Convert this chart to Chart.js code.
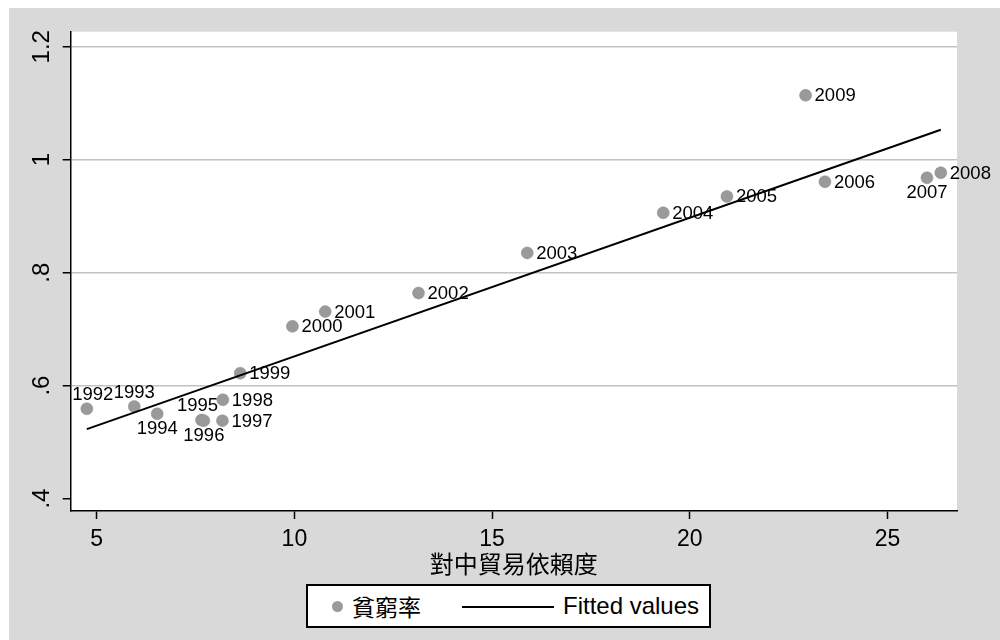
<!DOCTYPE html>
<html>
<head>
<meta charset="utf-8">
<script src="https://cdn.jsdelivr.net/npm/chart.js@4.4.0/dist/chart.umd.min.js"></script>
<style>
  html, body { margin: 0; padding: 0; background: #fff; }
  #wrap { position: relative; width: 1000px; height: 640px; overflow: hidden; }
  #chart { position: absolute; left: 0; top: 0; }
  #legend {
    position: absolute; left: 306px; top: 584px; width: 405px; height: 44px;
    box-sizing: border-box; border: 2px solid #000; background: #fff;
    font-family: 'Liberation Sans', Arial, sans-serif; color: #000;
  }
  .item { position: absolute; top: 0; height: 100%; display: flex; align-items: center; white-space: nowrap; }
  .dot { position: absolute; left: 24px; top: 15px; width: 11px; height: 11px; border-radius: 50%; background: #9a9a9a; }
  .bar { position: absolute; left: 154px; top: 20px; width: 92px; height: 2px; background: #000; }
</style>
</head>
<body>
<div id="wrap">
  <canvas id="chart" width="1000" height="640"></canvas>
  <div id="legend">
    <span class="dot"></span>
    <span class="item" style="left:44px; font-family:'Noto Sans CJK TC'; font-size:23px;">貧窮率</span>
    <span class="bar"></span>
    <span class="item" style="left:255px; font-size:24px;">Fitted values</span>
  </div>
</div>
<script>
// 資料
const years = ['1992', '1993', '1994', '1995', '1996', '1997', '1998', '1999', '2000',
               '2001', '2002', '2003', '2004', '2005', '2006', '2007', '2008', '2009']
const tradeDep = [4.75, 5.95, 6.53, 7.65, 7.71, 8.18, 8.19, 8.63, 9.95,
                  10.78, 13.14, 15.89, 19.33, 20.94, 23.42, 26.00, 26.35, 22.93]
const povertyRate = [0.559, 0.563, 0.550, 0.539, 0.538, 0.538, 0.575, 0.622, 0.705,
                     0.731, 0.764, 0.835, 0.906, 0.935, 0.961, 0.968, 0.977, 1.114]
const fitX = [4.75, 26.35]
const fitY = [0.523, 1.053]
const xTicks = [5, 10, 15, 20, 25]
const yTicks = [0.4, 0.6, 0.8, 1, 1.2]

// label placement (clock position) + small nudges
const labelPos = ['12', '12', '6', '12', '6', '3', '3', '3', '3',
                  '3', '3', '3', '3', '3', '3', '6', '3', '3']
const labelNudge = { '1992': 6, '1995': -4 }

const FONT = 'Liberation Sans'

function fmtY(v) {
    if (v === 1) return '1'
    return v.toFixed(1).replace(/^0/, '')
}

const backdrop = {
    id: 'backdrop',
    beforeDraw(chart) {
        const { ctx, chartArea: a } = chart
        ctx.save()
        ctx.fillStyle = '#fff'
        ctx.fillRect(0, 0, chart.width, chart.height)
        ctx.fillStyle = '#d9d9d9'
        ctx.fillRect(9, 8, chart.width - 9, chart.height - 8)
        ctx.fillStyle = '#fff'
        ctx.fillRect(a.left, a.top, a.right - a.left, a.bottom - a.top)
        ctx.restore()
    }
}

const yLabels = {
    id: 'yLabels',
    afterDraw(chart) {
        const { ctx } = chart
        const s = chart.scales.y
        ctx.save()
        ctx.font = '24px "' + FONT + '"'
        ctx.fillStyle = '#000'
        ctx.textAlign = 'center'
        ctx.textBaseline = 'alphabetic'
        yTicks.forEach(v => {
            const py = s.getPixelForValue(v)
            ctx.save()
            ctx.translate(49, py)
            ctx.rotate(-Math.PI / 2)
            ctx.fillText(fmtY(v), 0, 0)
            ctx.restore()
        })
        ctx.restore()
    }
}

const pointLabels = {
    id: 'pointLabels',
    afterDatasetDraw(chart, args) {
        if (args.index !== 0) return
        const { ctx } = chart
        ctx.save()
        ctx.font = '18.5px "' + FONT + '"'
        ctx.fillStyle = '#000'
        ctx.textBaseline = 'middle'
        args.meta.data.forEach((pt, i) => {
            const pos = labelPos[i]
            const nudge = labelNudge[years[i]] || 0
            if (pos === '3') {
                ctx.textAlign = 'left'
                ctx.fillText(years[i], pt.x + 9 + nudge, pt.y + 1)
            } else if (pos === '12') {
                ctx.textAlign = 'center'
                ctx.fillText(years[i], pt.x + nudge, pt.y - 14)
            } else {
                ctx.textAlign = 'center'
                ctx.fillText(years[i], pt.x + nudge, pt.y + 15)
            }
        })
        ctx.restore()
    }
}

new Chart(document.getElementById('chart'), {
    type: 'scatter',
    data: {
        datasets: [
            {
                label: '貧窮率',
                data: tradeDep.map((x, i) => ({ x: x, y: povertyRate[i] })),
                backgroundColor: '#9a9a9a',
                borderColor: '#8a8a8a',
                borderWidth: 0.5,
                pointRadius: 6,
                order: 2
            },
            {
                label: 'Fitted values',
                data: fitX.map((x, i) => ({ x: x, y: fitY[i] })),
                showLine: true,
                borderColor: '#000',
                borderWidth: 2,
                pointRadius: 0,
                order: 1
            }
        ]
    },
    options: {
        responsive: false,
        animation: false,
        layout: { padding: { left: 0, top: 31.7, right: 43, bottom: 61.6 } },
        plugins: {
            legend: { display: false },
            tooltip: { enabled: false }
        },
        scales: {
            x: {
                type: 'linear',
                min: 4.342,
                max: 26.76,
                afterBuildTicks: s => { s.ticks = xTicks.map(v => ({ value: v })) },
                afterFit: s => { s.height = 67.4 },
                ticks: {
                    font: { family: FONT, size: 23 },
                    color: '#000',
                    padding: 7,
                    maxRotation: 0,
                    autoSkip: false
                },
                grid: { drawOnChartArea: false, tickLength: 8, tickColor: '#000', tickWidth: 1.5 },
                border: { color: '#000', width: 1.5 },
                title: {
                    display: true,
                    text: '對中貿易依賴度',
                    font: { family: 'Noto Sans CJK TC', size: 24, lineHeight: 1.2 },
                    color: '#000',
                    padding: 0
                }
            },
            y: {
                type: 'linear',
                min: 0.378,
                max: 1.2266,
                afterBuildTicks: s => { s.ticks = yTicks.map(v => ({ value: v })) },
                afterFit: s => { s.width = 70.7 },
                ticks: { display: false },
                grid: {
                    color: ctx => (ctx.tick && ctx.tick.value === 0.4) ? 'rgba(0,0,0,0)' : '#c2c2c2',
                    lineWidth: 1.5,
                    tickLength: 8,
                    tickColor: '#000',
                    tickWidth: 1.5
                },
                border: { color: '#000', width: 1.5 }
            }
        }
    },
    plugins: [backdrop, yLabels, pointLabels]
})
</script>
</body>
</html>
